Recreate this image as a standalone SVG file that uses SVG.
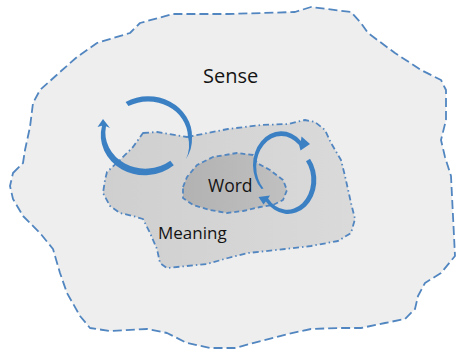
<svg xmlns="http://www.w3.org/2000/svg" width="456" height="352" viewBox="0 0 456 352">
<style>
.lbl{font-family:"Open Sans","DejaVu Sans",sans-serif;fill:#141414}
.edge{stroke:#5286c0;stroke-width:1.8;fill:none;stroke-linejoin:round}
.arr{fill:#3c80c4}
</style>
<defs>
<linearGradient id="gm" x1="0" y1="0" x2="1" y2="0">
<stop offset="0" stop-color="#cfcfcf"/><stop offset="1" stop-color="#dadada"/>
</linearGradient>
<linearGradient id="gw" x1="0" y1="0" x2="1" y2="0">
<stop offset="0" stop-color="#b2b2b2"/><stop offset="1" stop-color="#c0c0c0"/>
</linearGradient>
</defs>
<rect width="456" height="352" fill="#ffffff"/>
<g id="sense">
<path class="edge" style="fill:#eeeeee;stroke-dasharray:9 4" d="M13,173 L23,163 L25,150 L30,127 L33,103 L40,90 L60,72 L77,57 L97,43 L130,33 L140,23 L173,14 L228,14 L295,12 L311,7 L351,12 L361,23 L368,33 L395,53 L421,70 L441,80 L446,90 L446,120 L441,140 L445,157 L451,176 L455,256 L441,273 L425,283 L418,296 L415,309 L405,319 L385,323 L361,328 L338,328 L311,329 L288,334 L261,341 L235,348 L210,348 L187,343 L167,333 L147,329 L110,331 L90,328 L80,316 L67,293 L60,273 L53,249 L40,233 L23,216 L13,199 L10,186 Z"/>
<text class="lbl" x="203" y="83" font-size="20">Sense</text>
</g>
<g id="meaning">
<path class="edge" style="fill:url(#gm);stroke-dasharray:6 3 1.5 3" d="M143,133 L157,132 L187,137 L228,129 L261,125 L288,124 L305,120 L315,122 L325,130 L331,143 L341,160 L345,176 L351,203 L355,219 L351,233 L338,241 L311,246 L285,249 L248,253 L228,258 L207,264 L187,266 L167,268 L160,263 L157,249 L150,233 L143,219 L133,216 L120,213 L110,206 L103,193 L105,180 L107,172 L120,160 L133,147 Z"/>
<text class="lbl" x="158" y="239" font-size="17">Meaning</text>
</g>
<g id="word">
<path class="edge" style="fill:url(#gw);stroke-dasharray:5 3" d="M183,187 L187,177 L197,165 L213,157 L237,153 L253,155 L257,163 L270,170 L283,180 L287,190 L283,200 L273,205 L260,207 L243,211 L227,213 L210,210 L193,205 L183,198 Z"/>
<text class="lbl" x="208" y="192" font-size="17.5">Word</text>
</g>
<g id="connectors">
<path class="arr" d="M125.6,101.9 A44 40 0 0 1 192,137.2 A44 40 0 0 1 186,159 A40 36 0 0 0 188,136.8 A40 36 0 0 0 128.4,106.1 Z"/>
<path class="arr" d="M173.8,165.2 A44 40 0 0 1 102,125.7 L97.5,127 L103,119 L110,128 L106,126.3 A40 36 0 0 0 170.3,160.8 Z"/>
<path class="arr" d="M261.5,189 A26 31 0 0 1 300.9,140.9 L301.5,136.5 L310,144 L300.5,150.5 L299.1,145.1 A22 27 0 0 0 263.5,188.5 Z"/>
<path class="arr" d="M310,158.8 A26 31 0 0 1 265.9,201.4 L263.5,204.5 L258.5,197 L270,195.5 L268.1,198.6 A22 27 0 0 0 306,161.2 Z"/>
</g>
</svg>
